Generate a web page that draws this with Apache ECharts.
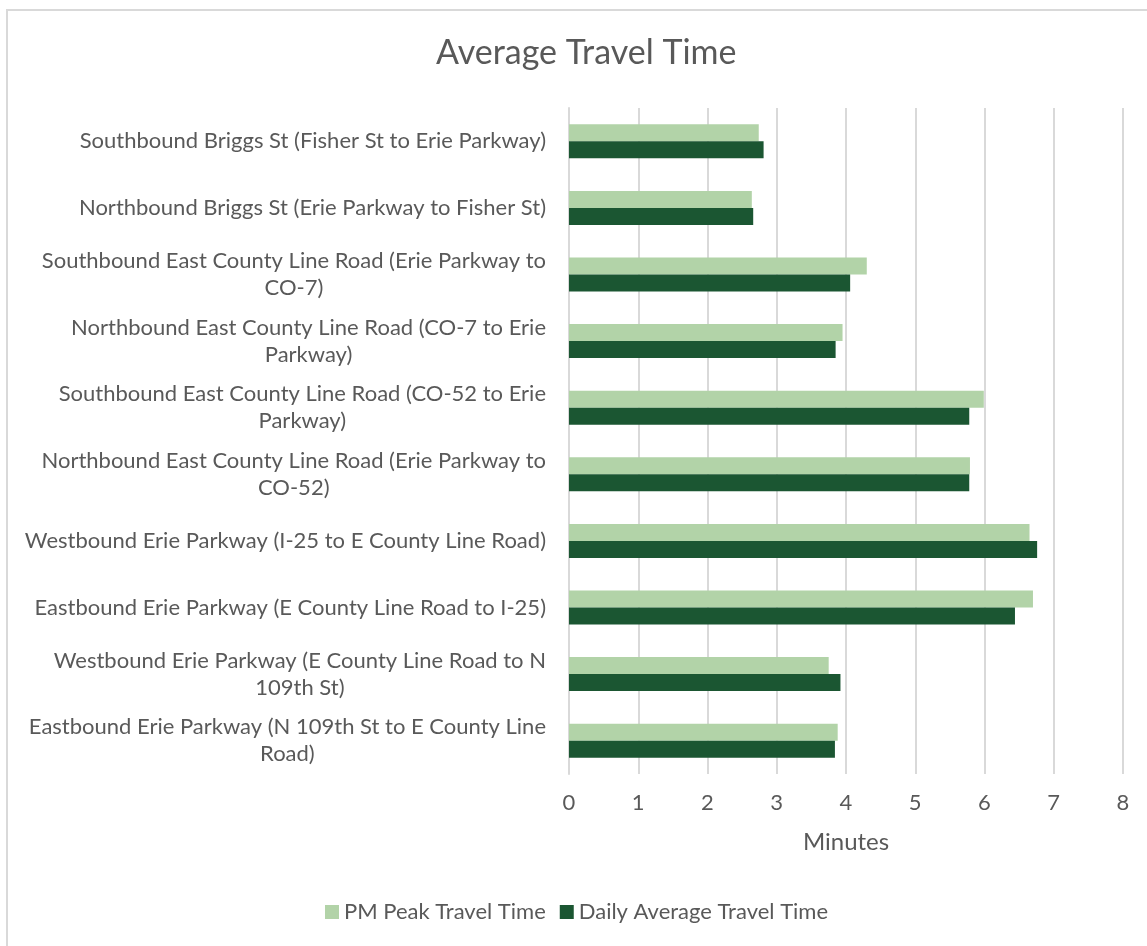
<!DOCTYPE html>
<html>
<head>
<meta charset="utf-8">
<script src="https://cdn.jsdelivr.net/npm/echarts@6/dist/echarts.min.js"></script>
<style>
  html, body { margin: 0; padding: 0; background: #fff; overflow: hidden; }
  #frame { position: absolute; left: 6px; top: 9px; width: 1160px; height: 960px; border: 2px solid #d9d9d9; box-sizing: border-box; }
  #chart { position: absolute; left: 0; top: 0; width: 1147px; height: 946px; }
</style>
</head>
<body>
<div id="frame"></div>
<div id="chart"></div>
<script>
// road segments, top to bottom
var categories = [
  "Southbound Briggs St (Fisher St to Erie Parkway)",
  "Northbound Briggs St (Erie Parkway to Fisher St)",
  "Southbound East County Line Road (Erie Parkway to\nCO-7)",
  "Northbound East County Line Road (CO-7 to Erie\nParkway)",
  "Southbound East County Line Road (CO-52 to Erie\nParkway)",
  "Northbound East County Line Road (Erie Parkway to\nCO-52)",
  "Westbound Erie Parkway (I-25 to E County Line Road)",
  "Eastbound Erie Parkway (E County Line Road to I-25)",
  "Westbound Erie Parkway (E County Line Road to N\n109th St)",
  "Eastbound Erie Parkway (N 109th St to E County Line\nRoad)"
];
var pmPeak = [2.74, 2.64, 4.30, 3.95, 5.99, 5.79, 6.65, 6.70, 3.75, 3.88];
var dailyAvg = [2.81, 2.66, 4.06, 3.85, 5.78, 5.78, 6.76, 6.44, 3.92, 3.84];
var xTicks = [0, 1, 2, 3, 4, 5, 6, 7, 8];

var chart = echarts.init(document.getElementById("chart"));
var font = "Lato";
var txt = "#595959";

var option = {
  backgroundColor: "transparent",
  color: ["#b2d3a8", "#1b5632"],
  title: {
    text: "Average Travel Time",
    left: 431,
    top: 31,
    textStyle: { fontFamily: font, fontSize: 34, fontWeight: "normal", color: txt }
  },
  legend: {
    data: ["PM Peak Travel Time", "Daily Average Travel Time"],
    bottom: 18,
    left: 320,
    itemWidth: 14,
    itemHeight: 14,
    itemGap: 14,
    icon: "rect",
    textStyle: { fontFamily: font, fontSize: 22, color: txt }
  },
  grid: { left: 569, right: 24, top: 108, bottom: 172 },
  xAxis: {
    type: "value",
    min: xTicks[0],
    max: xTicks[xTicks.length - 1],
    interval: 1,
    name: "Minutes",
    nameLocation: "middle",
    nameGap: 56,
    nameTextStyle: { fontFamily: font, fontSize: 24, color: txt },
    axisLine: { show: false },
    axisTick: { show: false },
    axisLabel: { fontFamily: font, fontSize: 22, color: txt, margin: 18 },
    splitLine: { lineStyle: { color: "#d9d9d9", width: 2 } }
  },
  yAxis: {
    type: "category",
    inverse: true,
    data: categories,
    axisLine: { show: true, lineStyle: { color: "#d9d9d9", width: 2 } },
    axisTick: { show: false },
    axisLabel: {
      margin: 23,
      align: "right",
      lineHeight: 27,
      formatter: function (v) {
        return v.split("\n").map(function (s) { return "{c|" + s + "}"; }).join("\n");
      },
      rich: {
        c: { fontFamily: font, fontSize: 22, color: txt, align: "center", lineHeight: 27 }
      }
    }
  },
  series: [
    {
      name: "PM Peak Travel Time",
      type: "bar",
      data: pmPeak,
      barWidth: 17,
      barGap: "0%",
      barCategoryGap: "49%"
    },
    {
      name: "Daily Average Travel Time",
      type: "bar",
      data: dailyAvg,
      barWidth: 17,
      barGap: "0%",
      barCategoryGap: "49%"
    }
  ]
};

chart.setOption(option);
window.onresize = chart.resize;
</script>
</body>
</html>
